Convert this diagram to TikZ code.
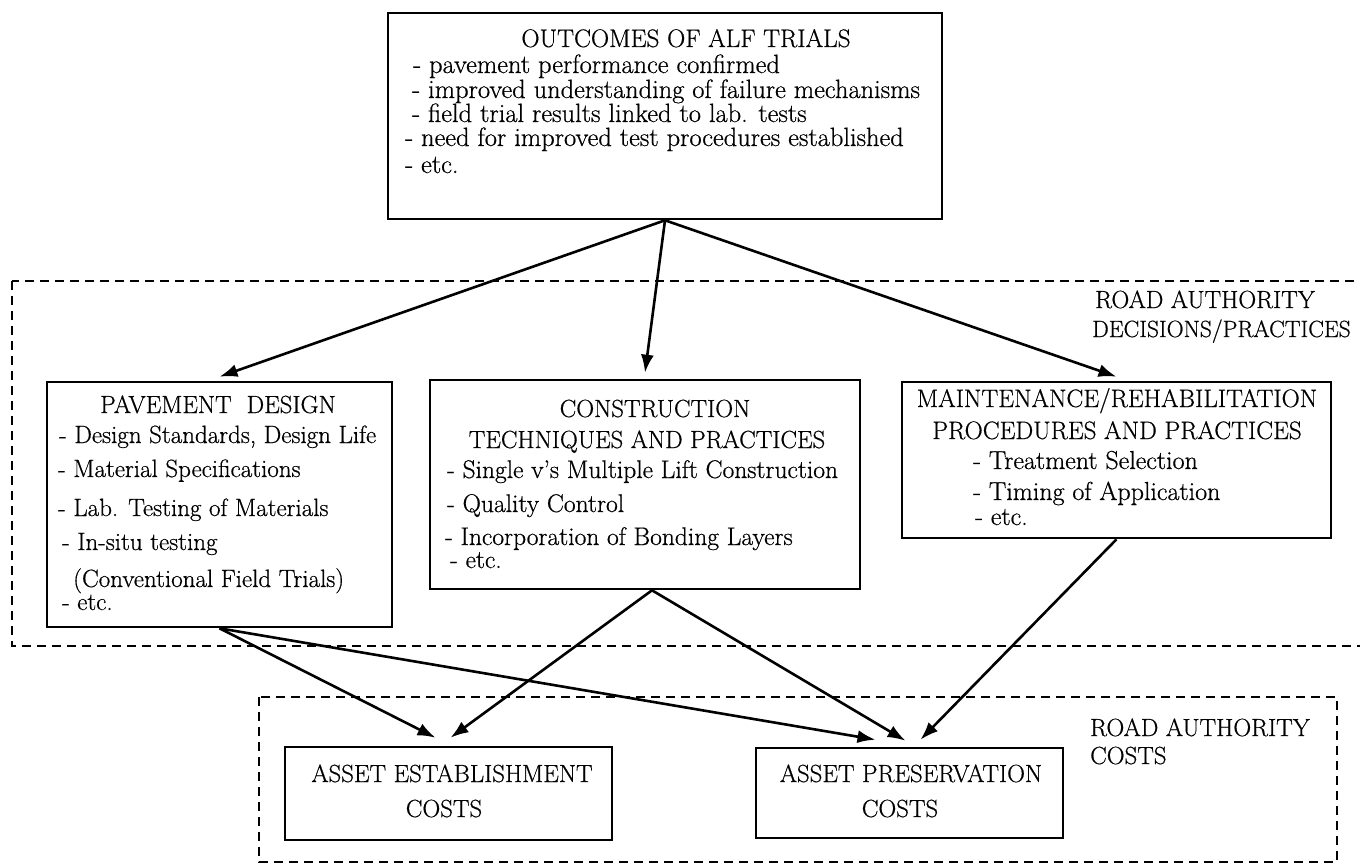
\documentclass[tikz,border=0pt]{standalone}
\usepackage{fontspec}
\setmainfont{Latin Modern Roman}[FakeBold=0.6]
\usetikzlibrary{arrows.meta,calc}
\newcommand{\fsz}[1]{\fontsize{#1}{#1}\selectfont}
\tikzset{
  box/.style={draw, line width=2.6pt, inner sep=0pt},
  dashbox/.style={draw, line width=2.2pt, dash pattern=on 9pt off 6pt},
  arr/.style={line width=2.6pt, -{Latex[length=18pt,width=13pt]}},
  txt/.style={inner sep=0pt, font=\fsz{24.8}},
  topitem/.style={txt, anchor=base west, font=\fsz{26.4}},
  paveitem/.style={txt, anchor=base west, font=\fsz{25}},
  consitem/.style={txt, anchor=base west, font=\fsz{25.5}},
  maintitem/.style={txt, anchor=base west, font=\fsz{26}},
}
\begin{document}
\begin{tikzpicture}[x=1pt,y=-1pt]
\path[use as bounding box] (0,0) rectangle (1360,864);
% group frames
\draw[dashbox] (12,281) rectangle (1368,646);
\draw[dashbox] (259,697) rectangle (1337,862);
% boxes
\node[box, minimum width=554pt, minimum height=206pt] (top) at (665,116) {};
\node[box, minimum width=345pt, minimum height=245pt] (pave) at (219.5,504.5) {};
\node[box, minimum width=430pt, minimum height=209pt] (cons) at (645,484.5) {};
\node[box, minimum width=429pt, minimum height=156pt] (maint) at (1116.5,460) {};
\node[box, minimum width=327pt, minimum height=93pt] (aest) at (448.5,793.5) {};
\node[box, minimum width=307pt, minimum height=90pt] (apres) at (909.5,793) {};
% top box text
\node[txt, anchor=base, font=\fsz{25.3}] (t0) at (686,47) {OUTCOMES OF ALF TRIALS};
\node[topitem] (t1) at (413,73) {- pavement performance confirmed};
\node[topitem] (t2) at (412,98) {- improved understanding of failure mechanisms};
\node[topitem] (t3) at (412,122) {- field trial results linked to lab. tests};
\node[topitem] (t4) at (405,146) {- need for improved test procedures established};
\node[topitem] (t5) at (405,173) {- etc.};
% pavement design
\node[txt, anchor=base] (p0) at (218,413) {PAVEMENT\ \ DESIGN};
\node[paveitem] (p1) at (59,443) {- Design Standards, Design Life};
\node[paveitem] (p2) at (58,477) {- Material Specifications};
\node[paveitem] (p3) at (58,516) {- Lab. Testing of Materials};
\node[paveitem] (p4) at (62,550) {- In-situ testing};
\node[paveitem] (p5) at (73,587) {(Conventional Field Trials)};
\node[paveitem] (p6) at (62,610) {- etc.};
% construction
\node[txt, anchor=base] (c0) at (655,417) {CONSTRUCTION};
\node[txt, anchor=base] (c1) at (647,448) {TECHNIQUES AND PRACTICES};
\node[consitem] (c2) at (447,478) {- Single v's Multiple Lift Construction};
\node[consitem] (c3) at (447,512) {- Quality Control};
\node[consitem] (c4) at (445,545) {- Incorporation of Bonding Layers};
\node[consitem] (c5) at (450,568) {- etc.};
% maintenance
\node[txt, anchor=base, font=\fsz{25.2}] (m0) at (1117,407) {MAINTENANCE/REHABILITATION};
\node[txt, anchor=base, font=\fsz{25.2}] (m1) at (1117,439) {PROCEDURES AND PRACTICES};
\node[maintitem] (m2) at (973,469) {- Treatment Selection};
\node[maintitem] (m3) at (973,500) {- Timing of Application};
\node[maintitem] (m4) at (975,525) {- etc.};
% group labels
\node[txt, anchor=base west] (g1a) at (1095,308) {ROAD AUTHORITY};
\node[txt, anchor=base west, font=\fsz{23.5}] (g1b) at (1092,337) {DECISIONS/PRACTICES};
\node[txt, anchor=base west] (g2a) at (1090,736) {ROAD AUTHORITY};
\node[txt, anchor=base west] (g2b) at (1090,764) {COSTS};
% cost boxes text
\node[txt, anchor=base] (e0) at (452,782) {ASSET ESTABLISHMENT};
\node[txt, anchor=base] (e1) at (444,817) {COSTS};
\node[txt, anchor=base] (r0) at (911,782) {ASSET PRESERVATION};
\node[txt, anchor=base] (r1) at (900,817) {COSTS};
% connectors
\draw[arr] (top.south) -- ([yshift=4pt]pave.north);
\draw[arr] (top.south) -- ([yshift=6pt]cons.north);
\draw[arr] (top.south) -- ([yshift=4pt]maint.north);
\draw[arr] (pave.south) -- ([xshift=-13pt,yshift=8pt]aest.north);
\draw[arr] (pave.south) -- ([xshift=-34pt,yshift=7pt]apres.north);
\draw[arr] ([xshift=7pt]cons.south) -- ([xshift=2pt,yshift=8pt]aest.north);
\draw[arr] ([xshift=7pt]cons.south) -- ([xshift=-4pt,yshift=6pt]apres.north);
\draw[arr] (maint.south) -- ([xshift=11pt,yshift=7pt]apres.north);
\end{tikzpicture}
\end{document}
